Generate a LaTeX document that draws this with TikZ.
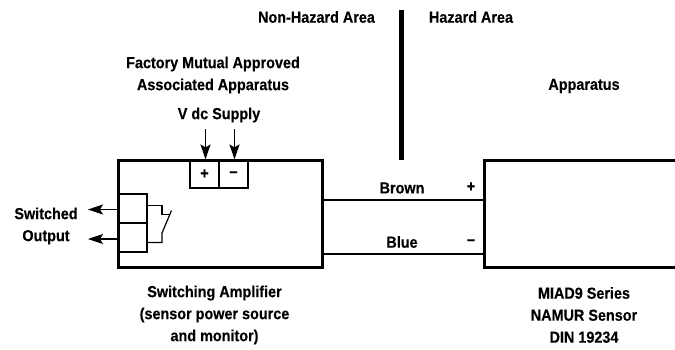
\documentclass[tikz,border=0pt]{standalone}
\usepackage{fontspec}
\setmainfont{Liberation Sans}[FakeStretch=0.9,BoldFeatures={FakeStretch=0.9,FakeBold=0.25}]
\usetikzlibrary{arrows.meta}
\tikzset{
  lab/.style={font=\fontsize{16}{22}\selectfont\bfseries,align=center,inner sep=0pt,text=black},
  heavy/.style={line width=3pt,draw=black},
  thin box/.style={line width=1.2pt,draw=black},
  wire/.style={line width=1.2pt,draw=black},
  arr/.style={line width=1.3pt,draw=black,-{Stealth[length=15pt,width=10pt,inset=3pt]}}
}
\begin{document}
\begin{tikzpicture}[x=1pt,y=-1pt]
\useasboundingbox (0,0) rectangle (675,349);
% area labels
\node[lab] (nh) at (316.5,17) {Non-Hazard Area};
\node[lab] (hz) at (471,17) {Hazard Area};
\coordinate (divT) at (401.5,10);
\coordinate (divB) at (401.5,160);
\draw[line width=4.6pt] (divT) -- (divB);
\node[lab] (fm) at (213,75) {Factory Mutual Approved\\Associated Apparatus};
\node[lab] (app) at (584,86) {Apparatus};
\node[lab] (vdc) at (219,115) {V dc Supply};
% left box
\draw[heavy] (118,160) rectangle (322,267.5);
\node[thin box,minimum width=29pt,minimum height=28pt,inner sep=0pt,lab] (tp) at (204.5,174) {+};
\node[thin box,minimum width=29pt,minimum height=28pt,inner sep=0pt,lab] (tm) at (233.5,174) {--};
\coordinate (vp) at (205.5,129);
\coordinate (vm) at (234.5,129);
\draw[arr] (vp) -- (vp |- tp.north);
\draw[arr] (vm) -- (vm |- tm.north);
% output boxes
\node[thin box,minimum width=28pt,minimum height=29pt,inner sep=0pt] (o1) at (133,208.5) {};
\node[thin box,minimum width=28pt,minimum height=29pt,inner sep=0pt] (o2) at (133,237.5) {};
\coordinate (a1) at (88,209.5);
\coordinate (a2) at (88,239);
\draw[arr] (o1.west) ++(-1,1) -- (a1);
\draw[arr] (o2.west) ++(-1,1.5) -- (a2);
\node[lab] (sw) at (46,226) {Switched\\Output};
% switch
\coordinate (s1) at (162,205.7);
\coordinate (s2) at (162,214.7);
\coordinate (s3) at (169.4,214.7);
\coordinate (s4) at (171.5,210.5);
\coordinate (s5) at (162,233);
\coordinate (s6) at (162,242.5);
\draw[wire] (o1.east |- s1) -- (s1) -- (s2) -- (s3);
\draw[wire] (s4) -- (s5) -- (s6) -- (o2.east |- s6);
% right box
\draw[heavy] (484,160) rectangle (678,267.5);
% wires
\draw[wire] (322,200) -- (484,200);
\draw[wire] (322,254) -- (484,254);
\node[lab] (br) at (402,188) {Brown};
\node[lab] (bl) at (402,242) {Blue};
\node[lab] (pl) at (471,187) {+};
\node[lab] (mi) at (471,242) {--};
\node[lab] (sa) at (214.5,315) {Switching Amplifier\\(sensor power source\\and monitor)};
\node[lab] (ms) at (584,315) {MIAD9 Series\\NAMUR Sensor\\DIN 19234};
\end{tikzpicture}
\end{document}
